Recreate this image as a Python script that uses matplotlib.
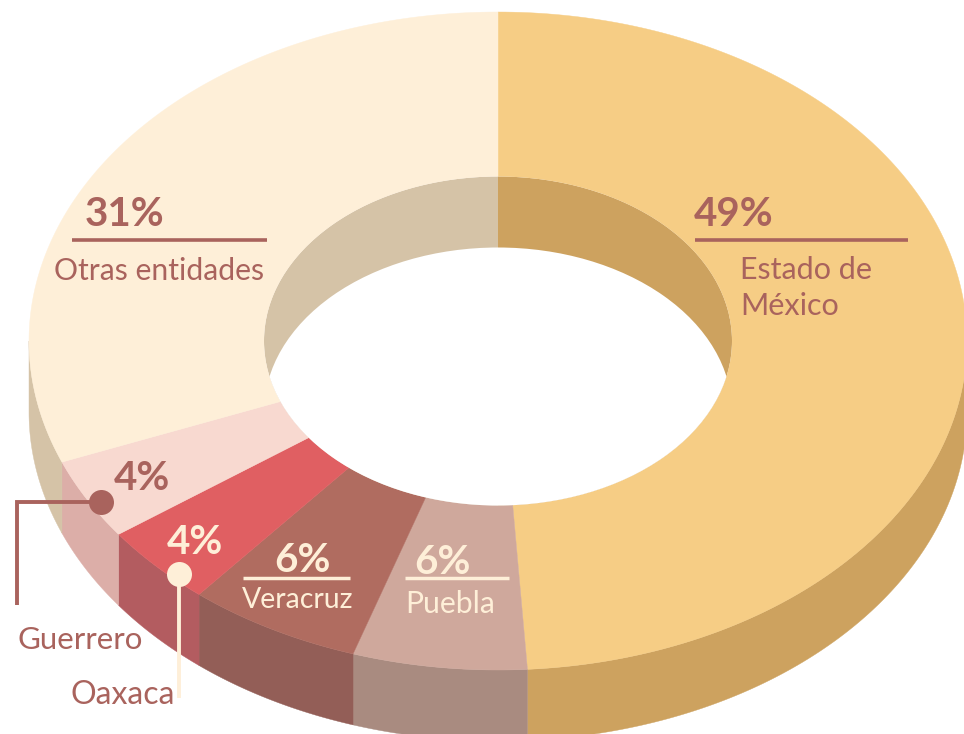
import numpy as np
import matplotlib
matplotlib.use("Agg")
import matplotlib.pyplot as plt
from matplotlib.patches import Polygon, Ellipse

plt.rcParams['font.family'] = ['Lato', 'DejaVu Sans']

# Data (clockwise from 12 o'clock)
categories = ["Estado de México", "Puebla", "Veracruz", "Oaxaca", "Guerrero", "Otras entidades"]
shares = [49, 6, 6, 4, 4, 31]
top_colors = ["#F6CD85", "#CFA89C", "#B06C60", "#E05F62", "#F8D9D0", "#FEEFD8"]
side_colors = ["#CDA25F", "#A98B80", "#935E57", "#B35C60", "#DCAEA8", "#D5C3A7"]

CX, CY = 498, 341
RX, RY = 469, 329
IRX, IRY = 234, 164.5
DEPTH = 71
INK = "#A9635D"
CREAM = "#FEEFD8"

fig = plt.figure(figsize=(9.64, 7.34), dpi=100)
ax = fig.add_axes([0, 0, 1, 1])
ax.set_xlim(0, 964)
ax.set_ylim(734, 0)
ax.axis("off")

def arc(a0, a1, rx, ry, dy=0):
    t = np.radians(np.linspace(a0, a1, 200))
    return np.column_stack([CX + rx*np.sin(t), CY + dy - ry*np.cos(t)])

edges = 3.6*np.concatenate([[0], np.cumsum(shares)])

# outer side walls
for i, c in enumerate(side_colors):
    a0, a1 = max(edges[i], 90), min(edges[i+1], 270)
    if a1 > a0:
        ax.add_patch(Polygon(np.vstack([arc(a0, a1, RX, RY), arc(a1, a0, RX, RY, DEPTH)]),
                             fc=c, ec=c, lw=0.3, zorder=1))
# top faces
for i, c in enumerate(top_colors):
    a0, a1 = edges[i], edges[i+1]
    ax.add_patch(Polygon(np.vstack([arc(a0, a1, RX, RY), arc(a1, a0, IRX, IRY)]),
                         fc=c, ec=c, lw=0.3, zorder=2))
# inner wall and hole
hole_clip = Ellipse((CX, CY), 2*IRX, 2*IRY, transform=ax.transData)
for a0, a1, c in [(0, 180, side_colors[0]), (180, 360, side_colors[5])]:
    wall = Polygon(arc(a0, a1, IRX, IRY), fc=c, ec="none", zorder=3)
    ax.add_patch(wall)
    wall.set_clip_path(hole_clip)
hole = Ellipse((CX, CY + DEPTH), 2*IRX, 2*IRY, fc="white", ec="none", zorder=4)
ax.add_patch(hole)
hole.set_clip_path(hole_clip)

def label(x, y, s, color=INK, size=22, weight="normal", ha="center"):
    ax.text(x, y, s, color=color, fontsize=size, fontweight=weight, ha=ha, va="center", zorder=8)

# Percent labels
label(125, 215, "31%", size=29, weight="bold")
label(734, 215, "49%", size=29, weight="bold")
label(142, 479, "4%", size=29, weight="bold")
label(195, 542, "4%", color=CREAM, size=29, weight="bold")
label(302, 561, "6%", color=CREAM, size=29, weight="bold")
label(442, 562, "6%", color=CREAM, size=29, weight="bold")

# Names
label(159, 271, "Otras entidades", size=21.7)
label(740, 270, "Estado de", size=22, ha="left")
label(740, 306, "México", size=22, ha="left")
label(298, 600, "Veracruz", color=CREAM, size=20.5)
label(450, 604, "Puebla", color=CREAM, size=21.7)
label(80, 640, "Guerrero", size=22.5)
label(123, 695, "Oaxaca", size=23)

# Rules
for x0, x1, y, c, w in [(72, 267, 240, INK, 2.6), (695, 908, 240, INK, 2.6),
                        (243, 350, 578, CREAM, 2.5), (405, 509, 578, CREAM, 2.5)]:
    ax.plot([x0, x1], [y, y], color=c, lw=w, solid_capstyle="butt", zorder=7)

# Callouts
ax.plot([101, 17, 17], [501.5, 501.5, 605], color=INK, lw=2.8, solid_joinstyle="miter",
        solid_capstyle="butt", zorder=7)
ax.plot([101], [501.5], "o", ms=18, color=INK, mec="none", zorder=8)
ax.plot([179, 179], [574, 698], color=CREAM, lw=2.8, solid_capstyle="butt", zorder=7)
ax.plot([179], [574], "o", ms=18, color=CREAM, mec="none", zorder=8)

fig.savefig("out.png", dpi=100)
